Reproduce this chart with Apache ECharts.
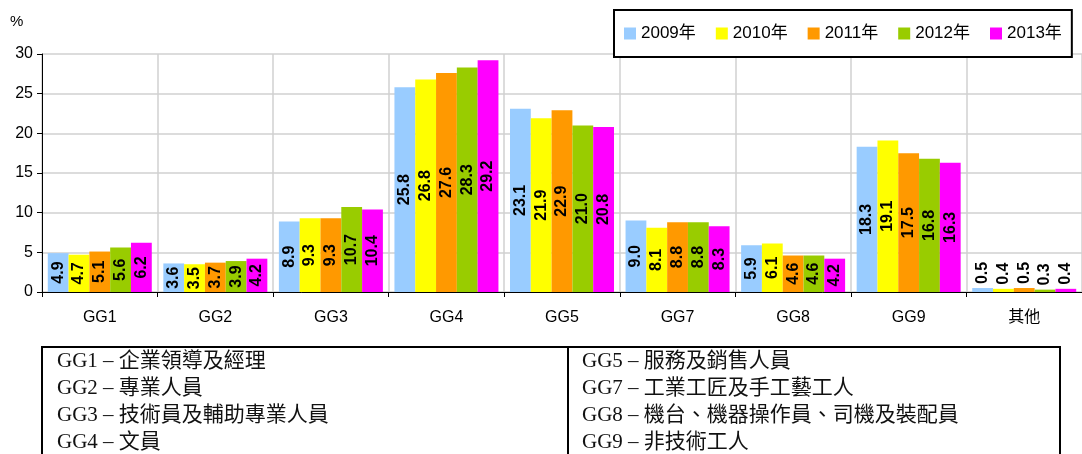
<!DOCTYPE html>
<html>
<head>
<meta charset="utf-8">
<script src="https://cdn.jsdelivr.net/npm/echarts@6/dist/echarts.min.js"></script>
<style>
  html, body { margin: 0; padding: 0; background: #fff; }
  #chart { width: 1082px; height: 454px; }
</style>
</head>
<body>
<div id="chart"></div>
<script>
// chart data
const categories = ["GG1", "GG2", "GG3", "GG4", "GG5", "GG7", "GG8", "GG9", "其他"];
const years = ["2009年", "2010年", "2011年", "2012年", "2013年"];
const v2009 = [4.9, 3.6, 8.9, 25.8, 23.1, 9.0, 5.9, 18.3, 0.5];
const v2010 = [4.7, 3.5, 9.3, 26.8, 21.9, 8.1, 6.1, 19.1, 0.4];
const v2011 = [5.1, 3.7, 9.3, 27.6, 22.9, 8.8, 4.6, 17.5, 0.5];
const v2012 = [5.6, 3.9, 10.7, 28.3, 21.0, 8.8, 4.6, 16.8, 0.3];
const v2013 = [6.2, 4.2, 10.4, 29.2, 20.8, 8.3, 4.2, 16.3, 0.4];
const yTicks = { min: 0, max: 30, interval: 5 };
const colors = ["#99ccff", "#ffff00", "#ff9900", "#99cc00", "#ff00ff"];

// table under the chart
const notesLeft = ["GG1 – 企業領導及經理", "GG2 – 專業人員", "GG3 – 技術員及輔助專業人員", "GG4 – 文員"];
const notesRight = ["GG5 – 服務及銷售人員", "GG7 – 工業工匠及手工藝工人", "GG8 – 機台、機器操作員、司機及裝配員", "GG9 – 非技術工人"];

const FONT = '"Liberation Sans", Arial, "Noto Sans CJK TC", sans-serif';
const SERIF = '"Liberation Serif", "Times New Roman", "Noto Sans CJK TC", serif';

function toData(values) {
  // tiny bars get their label above the bar
  return values.map((v) =>
    v < 2
      ? { value: v, label: { position: "top", align: "left", verticalAlign: "middle", distance: 4 } }
      : v
  );
}

const seriesValues = [v2009, v2010, v2011, v2012, v2013];
const series = years.map((name, i) => ({
  name,
  type: "bar",
  data: toData(seriesValues[i]),
  barGap: "0%",
  barCategoryGap: "10%",
  itemStyle: { color: colors[i] },
  label: {
    show: true,
    position: "inside",
    rotate: 90,
    color: "#000",
    fontFamily: FONT,
    fontWeight: "bold",
    fontSize: 16,
    formatter: (p) => p.value.toFixed(1),
  },
}));

function tableTexts() {
  const out = [];
  const rowY = [362, 389, 416, 443];
  notesLeft.forEach((t, i) => {
    out.push({ type: "text", left: 57, top: rowY[i] - 11, style: { text: t, font: "21px " + SERIF, fill: "#111" } });
  });
  notesRight.forEach((t, i) => {
    out.push({ type: "text", left: 582, top: rowY[i] - 11, style: { text: t, font: "21px " + SERIF, fill: "#111" } });
  });
  return out;
}

const chart = echarts.init(document.getElementById("chart"));
chart.setOption({
  animation: false,
  backgroundColor: "#fff",
  color: colors,
  textStyle: { fontFamily: FONT },
  grid: { left: 42, right: -8, top: 54, bottom: 162, containLabel: false },
  legend: {
    data: years,
    left: 614,
    top: 10,
    icon: "rect",
    itemWidth: 12,
    itemHeight: 12,
    itemGap: 20,
    padding: [15, 10, 15, 10],
    borderColor: "#000",
    borderWidth: 2,
    backgroundColor: "#fff",
    textStyle: { fontSize: 17, color: "#000", fontFamily: FONT },
  },
  xAxis: {
    type: "category",
    data: categories,
    axisLine: { lineStyle: { color: "#000", width: 1 } },
    axisTick: { show: true, length: 5, lineStyle: { color: "#000" } },
    splitLine: { show: true, lineStyle: { color: "#d0d0d0", width: 1.5 } },
    axisLabel: { color: "#000", fontSize: 16, margin: 18, fontFamily: FONT },
  },
  yAxis: {
    type: "value",
    min: yTicks.min,
    max: yTicks.max,
    interval: yTicks.interval,
    axisLine: { show: true, lineStyle: { color: "#000", width: 1 } },
    axisTick: { show: true, length: 5, lineStyle: { color: "#000" } },
    splitLine: { show: true, lineStyle: { color: "#d0d0d0", width: 1.5 } },
    axisLabel: { color: "#000", fontSize: 16, margin: 9, fontFamily: FONT },
  },
  series,
  graphic: [
    { type: "text", left: 10, top: 14, style: { text: "%", font: "15px " + FONT, fill: "#000" } },
    {
      type: "rect",
      shape: { x: 42, y: 347, width: 1018, height: 130 },
      style: { fill: "none", stroke: "#000", lineWidth: 2 },
    },
    {
      type: "line",
      shape: { x1: 568, y1: 347, x2: 568, y2: 454 },
      style: { stroke: "#000", lineWidth: 2 },
    },
    ...tableTexts(),
  ],
});
</script>
</body>
</html>
